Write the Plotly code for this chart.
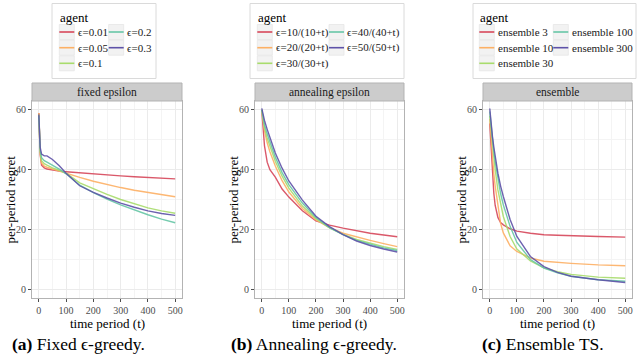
import plotly.graph_objects as go

W, H = 637, 362

# ---------------- data ----------------
t_fixed = [0, 5, 10, 20, 30, 50, 75, 100, 150, 200, 250, 300, 350, 400, 450, 500]
fixed_labels = ["ϵ=0.01", "ϵ=0.05", "ϵ=0.1", "ϵ=0.2", "ϵ=0.3"]
fixed_001 = [59, 45, 41.5, 40.6, 40.2, 39.8, 39.5, 39.3, 38.9, 38.5, 38.2, 37.9, 37.6, 37.4, 37.1, 36.9]
fixed_005 = [59, 45.5, 42.2, 41.2, 40.8, 40.2, 39.6, 38.9, 37.4, 36.1, 35.0, 34.0, 33.1, 32.3, 31.6, 30.9]
fixed_01 = [58.5, 46, 43, 42, 41.5, 40.6, 39.8, 38.8, 35.6, 33.6, 31.7, 30.0, 28.5, 27.2, 26.2, 25.4]
fixed_02 = [58, 46.5, 44, 43, 42.5, 41.6, 40.2, 38.6, 34.8, 32.3, 30.1, 28.2, 26.5, 24.9, 23.4, 22.2]
fixed_03 = [58.5, 47.5, 45.2, 44.6, 44.6, 43.4, 41.3, 38.8, 34.6, 32.4, 30.5, 28.8, 27.4, 26.2, 25.3, 24.7]

t_anneal = [0, 5, 10, 20, 30, 50, 75, 100, 150, 200, 250, 300, 350, 400, 450, 500]
anneal_labels = ["ϵ=10/(10+t)", "ϵ=20/(20+t)", "ϵ=30/(30+t)", "ϵ=40/(40+t)", "ϵ=50/(50+t)"]
anneal_10 = [60, 53, 48, 42.5, 40, 37.5, 33.5, 30.8, 26.2, 22.8, 21.4, 20.4, 19.5, 18.7, 18.1, 17.5]
anneal_20 = [60, 56, 53, 49, 46, 41.2, 36.3, 32.5, 27.0, 23.2, 20.6, 18.7, 17.4, 16.3, 15.2, 14.2]
anneal_30 = [60, 56.5, 54, 50.5, 48, 42.8, 37.8, 33.8, 27.8, 23.6, 20.5, 18.3, 16.6, 15.3, 14.2, 13.3]
anneal_40 = [60, 57, 55, 52, 49.5, 44.2, 39, 35, 28.8, 24.0, 20.6, 18.2, 16.3, 15.0, 13.8, 12.9]
anneal_50 = [60.5, 58, 56.5, 53.5, 51, 45.6, 40.5, 36.2, 29.8, 24.4, 20.9, 18.2, 16.1, 14.6, 13.4, 12.4]

t_ens = [0, 5, 10, 15, 20, 30, 40, 50, 75, 100, 150, 200, 250, 300, 400, 500]
ens_labels = ["ensemble 3", "ensemble 10", "ensemble 30", "ensemble 100", "ensemble 300"]
ens_3 = [55.5, 46, 38, 32, 28, 24, 22.3, 21.5, 20.2, 19.4, 18.7, 18.2, 18.0, 17.8, 17.6, 17.4]
ens_10 = [57, 50, 44, 38.5, 34.5, 27.5, 22, 18.8, 14.5, 12.6, 10.4, 9.3, 8.9, 8.6, 8.1, 7.8]
ens_30 = [58, 53, 48, 44, 40, 33.2, 28.2, 24.3, 17.6, 13.4, 9.4, 7.1, 5.8, 4.9, 4.0, 3.6]
ens_100 = [59.5, 54, 50, 46, 42.7, 36.6, 32, 28.2, 21, 15.6, 9.9, 7.0, 5.4, 4.3, 3.1, 2.6]
ens_300 = [60.5, 55, 51, 47.5, 44.4, 38.8, 34.5, 31, 23.3, 17.6, 10.9, 7.5, 5.6, 4.3, 3.1, 2.2]

strip_titles = ["fixed epsilon", "annealing epsilon", "ensemble"]
captions = ["<b>(a)</b> Fixed ϵ-greedy.", "<b>(b)</b> Annealing ϵ-greedy.", "<b>(c)</b> Ensemble TS."]
x_ticks = [0, 100, 200, 300, 400, 500]
y_ticks = [0, 20, 40, 60]

colors = ["#D7475A", "#FDB064", "#A8DC6C", "#66C6A6", "#5E52A8"]

panels = [
    (t_fixed, [fixed_001, fixed_005, fixed_01, fixed_02, fixed_03], fixed_labels),
    (t_anneal, [anneal_10, anneal_20, anneal_30, anneal_40, anneal_50], anneal_labels),
    (t_ens, [ens_3, ens_10, ens_30, ens_100, ens_300], ens_labels),
]

# ---------------- layout geometry (pixels) ----------------
panel_x = [(32, 182), (255, 404), (483, 632)]
panel_top, panel_bot = 101, 298
strip_top = 83
legend_boxes = [(52, 156), (250, 404), (473, 636)]
legend_cols = [(59.3, 108.7), (257.3, 329), (479.3, 553.3)]
legend_rows = [32, 47.7, 63.3]
caption_x = [78, 314, 543]

def px(x):
    return x / W

def py(y):
    return 1 - y / H

SERIF = "Liberation Serif, DejaVu Serif, serif"

fig = go.Figure()
shapes = []
annotations = []

for i, (t, series, labels) in enumerate(panels):
    n = i + 1
    xa = "x" if n == 1 else f"x{n}"
    ya = "y" if n == 1 else f"y{n}"
    for s, lab, col in zip(series, labels, colors):
        fig.add_trace(go.Scatter(x=t, y=s, mode="lines", name=lab,
                                 line=dict(color=col, width=1.4),
                                 opacity=0.9, xaxis=xa, yaxis=ya,
                                 showlegend=False, hoverinfo="skip"))
    x0, x1 = panel_x[i]
    axis_common = dict(showline=True, mirror=True, linecolor="#B3B3B3", linewidth=1,
                       ticks="outside", ticklen=3, tickcolor="#4D4D4D", tickwidth=1,
                       tickfont=dict(family=SERIF, size=10, color="#4D4D4D"),
                       showgrid=True, gridcolor="#EBEBEB", gridwidth=1, zeroline=False)
    fig.update_layout(**{
        ("xaxis" if n == 1 else f"xaxis{n}"): dict(
            domain=[px(x0), px(x1)], range=[-25, 525], tickvals=x_ticks,
            anchor=ya, minor=dict(dtick=50, tick0=0, showgrid=True, gridcolor="#F4F4F4",
                                  gridwidth=0.6, ticks=""),
            **axis_common),
        ("yaxis" if n == 1 else f"yaxis{n}"): dict(
            domain=[py(panel_bot), py(panel_top)], range=[-3, 63], tickvals=y_ticks,
            anchor=xa, minor=dict(dtick=10, tick0=0, showgrid=True, gridcolor="#F4F4F4",
                                  gridwidth=0.6, ticks=""),
            **axis_common),
    })
    # strip
    shapes.append(dict(type="rect", xref="paper", yref="paper",
                       x0=px(x0), x1=px(x1), y0=py(panel_top), y1=py(strip_top),
                       fillcolor="#CCCCCC", line=dict(color="#B3B3B3", width=1), layer="above"))
    annotations.append(dict(text=strip_titles[i], xref="paper", yref="paper",
                            x=px((x0 + x1) / 2), y=py((strip_top + panel_top) / 2),
                            showarrow=False, xanchor="center", yanchor="middle",
                            font=dict(family=SERIF, size=11.5, color="#1A1A1A")))
    # axis titles
    annotations.append(dict(text="time period (t)", xref="paper", yref="paper",
                            x=px((x0 + x1) / 2), y=py(323.5), showarrow=False,
                            xanchor="center", yanchor="middle",
                            font=dict(family=SERIF, size=13, color="black")))
    annotations.append(dict(text="per-period regret", xref="paper", yref="paper",
                            x=px(x0 - 22), y=py((panel_top + panel_bot) / 2), showarrow=False,
                            textangle=-90, xanchor="center", yanchor="middle",
                            font=dict(family=SERIF, size=13, color="black")))
    # caption
    annotations.append(dict(text=captions[i], xref="paper", yref="paper",
                            x=px(caption_x[i]), y=py(344), showarrow=False,
                            xanchor="center", yanchor="middle",
                            font=dict(family=SERIF, size=17.5, color="black")))
    # legend box
    lb0, lb1 = legend_boxes[i]
    shapes.append(dict(type="rect", xref="paper", yref="paper",
                       x0=px(lb0), x1=px(lb1), y0=py(78.5), y1=py(3.5),
                       fillcolor="white", line=dict(color="#DADADA", width=1)))
    annotations.append(dict(text="agent", xref="paper", yref="paper",
                            x=px(legend_cols[i][0] - 1), y=py(17), showarrow=False,
                            xanchor="left", yanchor="middle",
                            font=dict(family=SERIF, size=13, color="black")))
    slots = [(0, 0), (0, 1), (0, 2), (1, 0), (1, 1)]
    for (c, r), lab, col in zip(slots, labels, colors):
        kx = legend_cols[i][c]
        ky = legend_rows[r]
        shapes.append(dict(type="rect", xref="paper", yref="paper",
                           x0=px(kx), x1=px(kx + 15), y0=py(ky + 7.5), y1=py(ky - 7.5),
                           fillcolor="#F2F2F2", line=dict(color="#E6E6E6", width=0.8)))
        shapes.append(dict(type="line", xref="paper", yref="paper",
                           x0=px(kx), x1=px(kx + 15), y0=py(ky), y1=py(ky),
                           line=dict(color=col, width=1.6)))
        annotations.append(dict(text=lab, xref="paper", yref="paper",
                                x=px(kx + 16.5), y=py(ky), showarrow=False,
                                xanchor="left", yanchor="middle",
                                font=dict(family=SERIF, size=11, color="#1A1A1A")))

fig.update_layout(width=W, height=H, margin=dict(l=0, r=0, t=0, b=0),
                  paper_bgcolor="white", plot_bgcolor="white",
                  showlegend=False, shapes=shapes, annotations=annotations)

fig.write_html("out.html", config={"displayModeBar": False},
               post_script="document.body.style.margin='0px';document.body.style.overflow='hidden';")
